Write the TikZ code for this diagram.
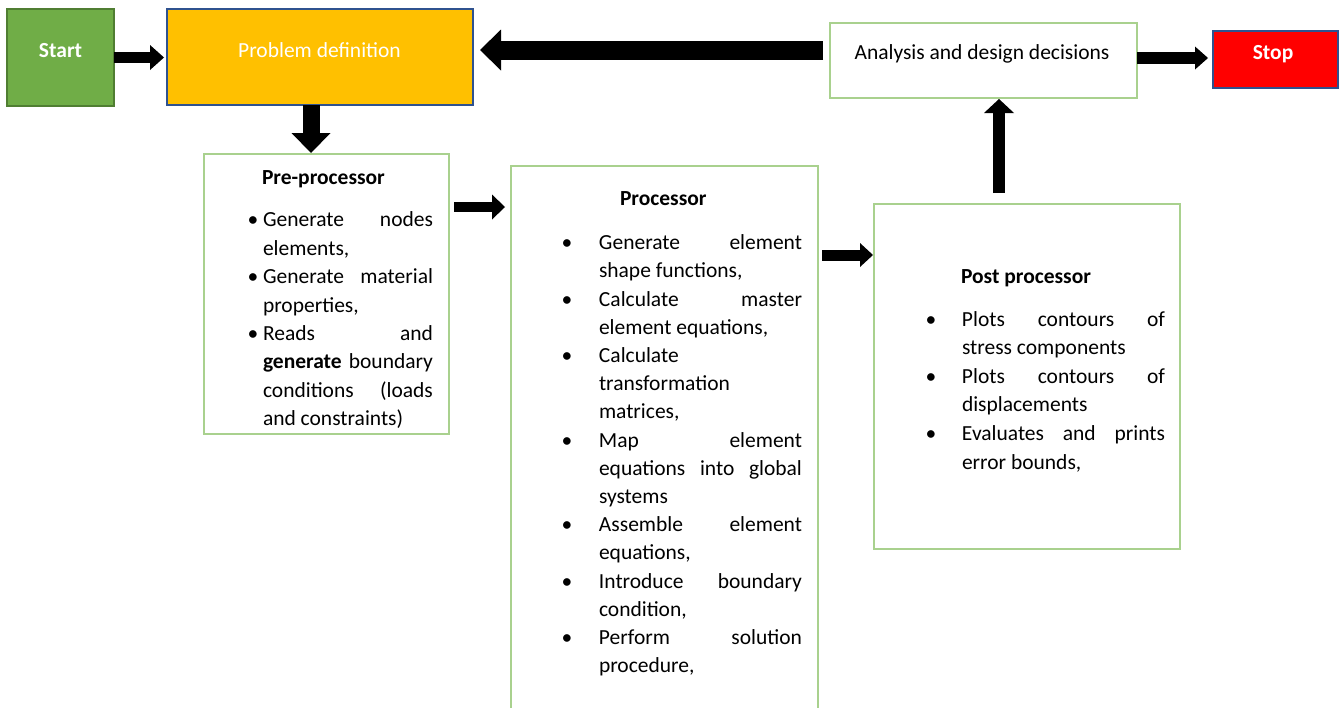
\documentclass[tikz,border=0pt]{standalone}
\usepackage{fontspec}
\setmainfont{Carlito}
\usetikzlibrary{arrows.meta}
\definecolor{startgreen}{HTML}{70AD47}
\definecolor{startborder}{HTML}{507E32}
\definecolor{probyellow}{HTML}{FFC000}
\definecolor{navyborder}{HTML}{2F528F}
\definecolor{boxgreen}{HTML}{A9D18E}
\definecolor{stopred}{HTML}{FF0000}
\newcommand\jl[2]{\makebox[#1][s]{#2}}
\newcommand\bl[1]{\makebox[20pt][c]{\textbullet}\hspace*{#1}}
\newcommand\il[1]{\hspace*{\dimexpr20pt+#1\relax}}
\tikzset{
  box/.style={rectangle, inner sep=0pt, outer sep=0pt, line width=1.5pt},
  greenbox/.style={box, draw=boxgreen, fill=white},
  lbl/.style={inner sep=0pt, outer sep=0pt, font=\fontsize{21.5}{26}\selectfont},
  list/.style={inner sep=0pt, outer sep=0pt, anchor=north west, font=\fontsize{21.5}{#1}\selectfont},
  fat/.style n args={3}{draw=black, line width=#1, -{Triangle[length=#3, width=#2, line width=0pt]}},
}
\begin{document}
\begin{tikzpicture}[x=1pt,y=-1pt]
\clip (0,0) rectangle (1341,707);
\fill[white] (0,0) rectangle (1341,707);

% boxes
\node[box, draw=startborder, fill=startgreen, minimum width=107pt, minimum height=97pt] (start) at (60.5,57.5) {};
\node[box, draw=navyborder, fill=probyellow, minimum width=306pt, minimum height=96pt] (prob) at (320,57) {};
\node[greenbox, minimum width=307pt, minimum height=75pt] (ana) at (983.5,60.5) {};
\node[box, draw=navyborder, fill=stopred, minimum width=125pt, minimum height=57pt] (stop) at (1275.5,59.5) {};
\node[greenbox, minimum width=245pt, minimum height=280pt] (pre) at (326.5,294) {};
\node[greenbox, minimum width=307pt, minimum height=554pt] (proc) at (664.5,443) {};
\node[greenbox, minimum width=306pt, minimum height=345pt] (post) at (1027,376.5) {};

% one-line labels
\node[lbl, anchor=base, text=white, font=\fontsize{21.5}{26}\selectfont\bfseries] (startT) at (60.5,57) {Start};
\node[lbl, anchor=base, text=white] (probT) at (319.5,57) {Problem definition};
\node[lbl, anchor=base, text=black] (anaT) at (982,59) {Analysis and design decisions};
\node[lbl, anchor=base, text=white, font=\fontsize{21.5}{26}\selectfont\bfseries] (stopT) at (1273,59) {Stop};

% titles
\node[lbl, anchor=base west, font=\fontsize{21.5}{26}\selectfont\bfseries] (preT) at (262,184) {Pre-processor};
\node[lbl, anchor=base west, font=\fontsize{21.5}{26}\selectfont\bfseries] (procT) at (620,205) {Processor};
\node[lbl, anchor=base west, font=\fontsize{21.5}{26}\selectfont\bfseries] (postT) at (961,283) {Post processor};

% lists
\node[list=28.4] (preL) at (243,207) {\begin{tabular}{@{}l@{}}
\bl{0pt}\jl{170pt}{Generate nodes}\\
\il{0pt}elements,\\
\bl{0pt}\jl{170pt}{Generate material}\\
\il{0pt}properties,\\
\bl{0pt}\jl{170pt}{Reads and}\\
\il{0pt}\jl{170pt}{\textbf{generate} boundary}\\
\il{0pt}\jl{170pt}{conditions (loads}\\
\il{0pt}and constraints)
\end{tabular}};

\node[list=28.2] (procL) at (557,230) {\begin{tabular}{@{}l@{}}
\bl{22pt}\jl{203pt}{Generate element}\\
\il{22pt}shape functions,\\
\bl{22pt}\jl{203pt}{Calculate master}\\
\il{22pt}element equations,\\
\bl{22pt}Calculate\\
\il{22pt}transformation\\
\il{22pt}matrices,\\
\bl{22pt}\jl{203pt}{Map element}\\
\il{22pt}\jl{203pt}{equations into global}\\
\il{22pt}systems\\
\bl{22pt}\jl{203pt}{Assemble element}\\
\il{22pt}equations,\\
\bl{22pt}\jl{203pt}{Introduce boundary}\\
\il{22pt}condition,\\
\bl{22pt}\jl{203pt}{Perform solution}\\
\il{22pt}procedure,
\end{tabular}};

\node[list=28.6] (postL) at (921,306) {\begin{tabular}{@{}l@{}}
\bl{21pt}\jl{203pt}{Plots contours of}\\
\il{21pt}stress components\\
\bl{21pt}\jl{203pt}{Plots contours of}\\
\il{21pt}displacements\\
\bl{21pt}\jl{203pt}{Evaluates and prints}\\
\il{21pt}error bounds,
\end{tabular}};

% helper coordinates for off-centre connectors
\coordinate (yTop) at (0,50);
\coordinate (xDown) at (311,0);
\coordinate (yPre) at (0,207);
\coordinate (yProc) at (0,255);
\coordinate (xUp) at (999,0);
\coordinate (yStop) at (0,58);

% connectors
\draw[fat={11pt}{25pt}{14pt}, shorten >=3pt] (start.east) -- (start.east -| prob.west);
\draw[fat={19pt}{41pt}{21pt}, shorten <=7pt, shorten >=7pt] (ana.west |- yTop) -- (prob.east |- yTop);
\draw[fat={17pt}{39pt}{20pt}, shorten >=1pt] (prob.south -| xDown) -- (pre.north -| xDown);
\draw[fat={10pt}{25pt}{13pt}, shorten <=5pt, shorten >=6pt] (pre.east |- yPre) -- (proc.west |- yPre);
\draw[fat={11pt}{24pt}{13pt}, shorten <=4pt, shorten >=1pt] (proc.east |- yProc) -- (post.west |- yProc);
\draw[fat={12pt}{30pt}{14pt}, shorten <=11pt, shorten >=1pt] (post.north -| xUp) -- (ana.south -| xUp);
\draw[fat={12pt}{23pt}{13pt}, shorten >=5pt] (ana.east |- yStop) -- (stop.west |- yStop);
\end{tikzpicture}
\end{document}
